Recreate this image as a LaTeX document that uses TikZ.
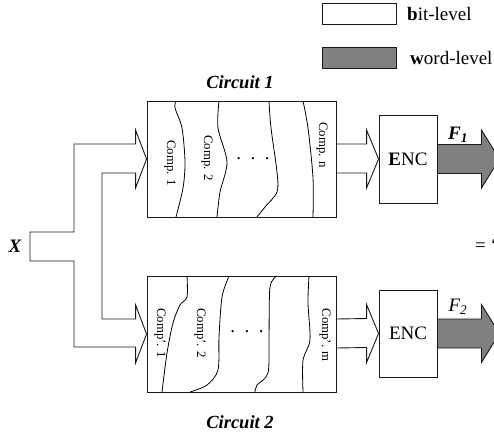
\documentclass[tikz,border=0pt]{standalone}
\usepackage{fontspec}
\setmainfont{Liberation Serif}
\usetikzlibrary{calc}
\begin{document}
\begin{tikzpicture}[x=1pt,y=-1pt,
  ln/.style={draw=black!90,line width=0.9pt},
  boxn/.style={ln,rectangle,inner sep=0pt},
  big/.style={font=\fontsize{19}{22}\selectfont},
  small/.style={font=\fontsize{12.8}{15}\selectfont,rotate=-90,inner sep=0pt},
  lbl/.style={font=\fontsize{18.5}{22}\selectfont\bfseries\itshape,inner sep=0pt},
  wave/.style={draw=black,line width=0.8pt}]
\useasboundingbox (0,0) rectangle (494,434);
% legend
\node[boxn,minimum width=74pt,minimum height=21pt,fill=white] (lb) at (359,14) {};
\node[boxn,minimum width=74pt,minimum height=21pt,fill=black!50] (lw) at (359,57.5) {};
\node[big,anchor=west,inner sep=0pt] (tb) at (407,14) {\textbf{b}it-level};
\node[big,anchor=west,inner sep=0pt] (tw) at (410,57.5) {\textbf{w}ord-level};
% circuits
\node[boxn,minimum width=189pt,minimum height=116pt] (c1) at (241.5,159) {};
\node[boxn,minimum width=189pt,minimum height=116pt] (c2) at (241.5,334) {};
\node[lbl] (l1) at (240,82) {Circuit 1};
\node[lbl] (l2) at (240,422) {Circuit 2};
% encoders
\node[boxn,minimum width=58pt,minimum height=88pt,big] (e1) at (408,159) {\textbf{E}NC};
\node[boxn,minimum width=58pt,minimum height=87pt,big] (e2) at (408,333.5) {ENC};
% input X
\node[font=\fontsize{19}{22}\selectfont\bfseries\itshape,inner sep=0pt] (X) at (15,246.5) {X};
\coordinate (xt) at (30,232);
\coordinate (xbt) at (30,261);
\coordinate (jo) at (74,246.5);
\coordinate (ji) at (102,246.5);
\coordinate (u1) at ($(c1.west)+(-11,-15)$);
\coordinate (u2) at ($(c1.west)+(-11,14)$);
\coordinate (d1) at ($(c2.west)+(-11,-15)$);
\coordinate (d2) at ($(c2.west)+(-11,13)$);
\draw[ln,line join=miter]
  (xt) -- (jo |- xt) -- (jo |- u1) -- (u1) -- ($(c1.west)+(-11,-29)$)
  -- (c1.west) -- ($(c1.west)+(-11,29)$) -- (u2)
  -- (ji |- u2) -- (ji |- d1)
  -- (d1) -- ($(c2.west)+(-11,-29)$)
  -- (c2.west) -- ($(c2.west)+(-11,29)$) -- (d2)
  -- (jo |- d2) -- (jo |- xbt) -- (xbt) -- cycle;
% output buses
\foreach \c/\e in {c1/e1,c2/e2}{
  \draw[ln,line join=miter] ($(\c.east)+(0,-15)$) -- ($(\e.west)+(-12,-15)$) -- ($(\e.west)+(-12,-29)$)
    -- (\e.west) -- ($(\e.west)+(-12,29)$) -- ($(\e.west)+(-12,14)$) -- ($(\c.east)+(0,14)$);
  \draw[ln,fill=black!50,line join=miter] ($(\e.east)+(0,-14.5)$) -- ($(\e.east)+(44,-14.5)$) -- ($(\e.east)+(44,-29)$)
    -- ($(\e.east)+(62,0)$) -- ($(\e.east)+(44,29)$) -- ($(\e.east)+(44,14.5)$) -- ($(\e.east)+(0,14.5)$) -- cycle;
}
\node[font=\fontsize{19}{22}\selectfont\bfseries\itshape,inner sep=0pt] (f1) at (458,135) {F\textsubscript{1}};
\node[font=\fontsize{19}{22}\selectfont\itshape,inner sep=0pt] (f2) at (458,307) {F\textsubscript{2}};
\node[big,anchor=west,inner sep=0pt] (eq) at (475,245) {= ‘};
% wavy partitions, circuit 1
\draw[wave] plot[smooth] coordinates {(176,101) (175,108) (182,128) (185,162) (183,188) (176,217)};
\draw[wave] plot[smooth] coordinates {(219,101) (218,128) (227,162) (220,192) (217,217)};
\draw[wave] plot[smooth] coordinates {(269,101) (271,128) (277,172) (277,192) (265,207) (257,217)};
\draw[wave] plot[smooth] coordinates {(303,101) (308,128) (313,178) (313,217)};
% wavy partitions, circuit 2
\draw[wave] plot[smooth] coordinates {(187,276) (187,297) (180,305) (173,323) (167,353) (162,392)};
\draw[wave] plot[smooth] coordinates {(229,276) (222,297) (219,337) (218,370) (207,385) (190,392)};
\draw[wave] plot[smooth] coordinates {(277,276) (270,287) (269,337) (268,373) (257,385) (255,392)};
\draw[wave] plot[smooth] coordinates {(309,276) (308,303) (310,340) (303,360) (303,392)};
% component labels
\node[small] (a1) at (170,163) {Comp. 1};
\node[small] (a2) at (207,158) {Comp. 2};
\node[font=\fontsize{19}{22}\selectfont,inner sep=0pt] (ad) at (253,159) {.\,\,\,.\,\,\,.};
\node[small] (an) at (322,145) {Comp. n};
\node[small] (b1) at (160,333) {Comp'. 1};
\node[small] (b2) at (200,333) {Comp'. 2};
\node[font=\fontsize{19}{22}\selectfont,inner sep=0pt] (bd) at (247,332) {.\,\,\,.\,\,\,.};
\node[small] (bm) at (325,335) {Comp'. m};
\end{tikzpicture}
\end{document}
